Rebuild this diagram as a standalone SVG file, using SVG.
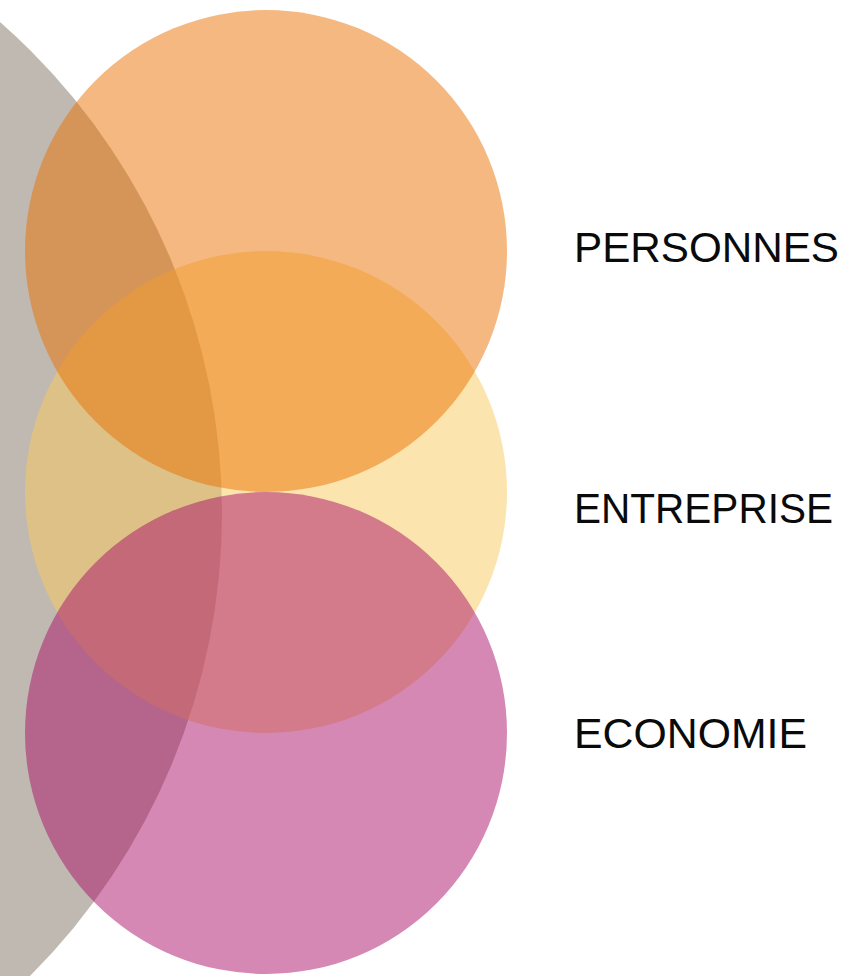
<svg xmlns="http://www.w3.org/2000/svg" width="842" height="976" viewBox="0 0 842 976">
<style>
.lbl{font-family:"Liberation Sans",Arial,sans-serif;font-size:42px;fill:#0a0a0a}
.c{opacity:0.5}
</style>
<rect width="842" height="976" fill="#fff"/>
<g id="background">
<circle cx="-432" cy="513" r="654" fill="#C0B9B1"/>
</g>
<g id="connectors"></g>
<g id="entreprise">
<circle class="c" cx="266" cy="492" r="241" fill="#F9C95D"/>
<text class="lbl" x="574" y="523" textLength="259" lengthAdjust="spacingAndGlyphs">ENTREPRISE</text>
</g>
<g id="personnes">
<circle class="c" cx="266" cy="251" r="241" fill="#E97101"/>
<text class="lbl" x="574" y="262" textLength="265" lengthAdjust="spacingAndGlyphs">PERSONNES</text>
</g>
<g id="economie">
<circle class="c" cx="266" cy="733" r="241" fill="#A91167"/>
<text class="lbl" x="574" y="748" textLength="233" lengthAdjust="spacingAndGlyphs">ECONOMIE</text>
</g>
</svg>
